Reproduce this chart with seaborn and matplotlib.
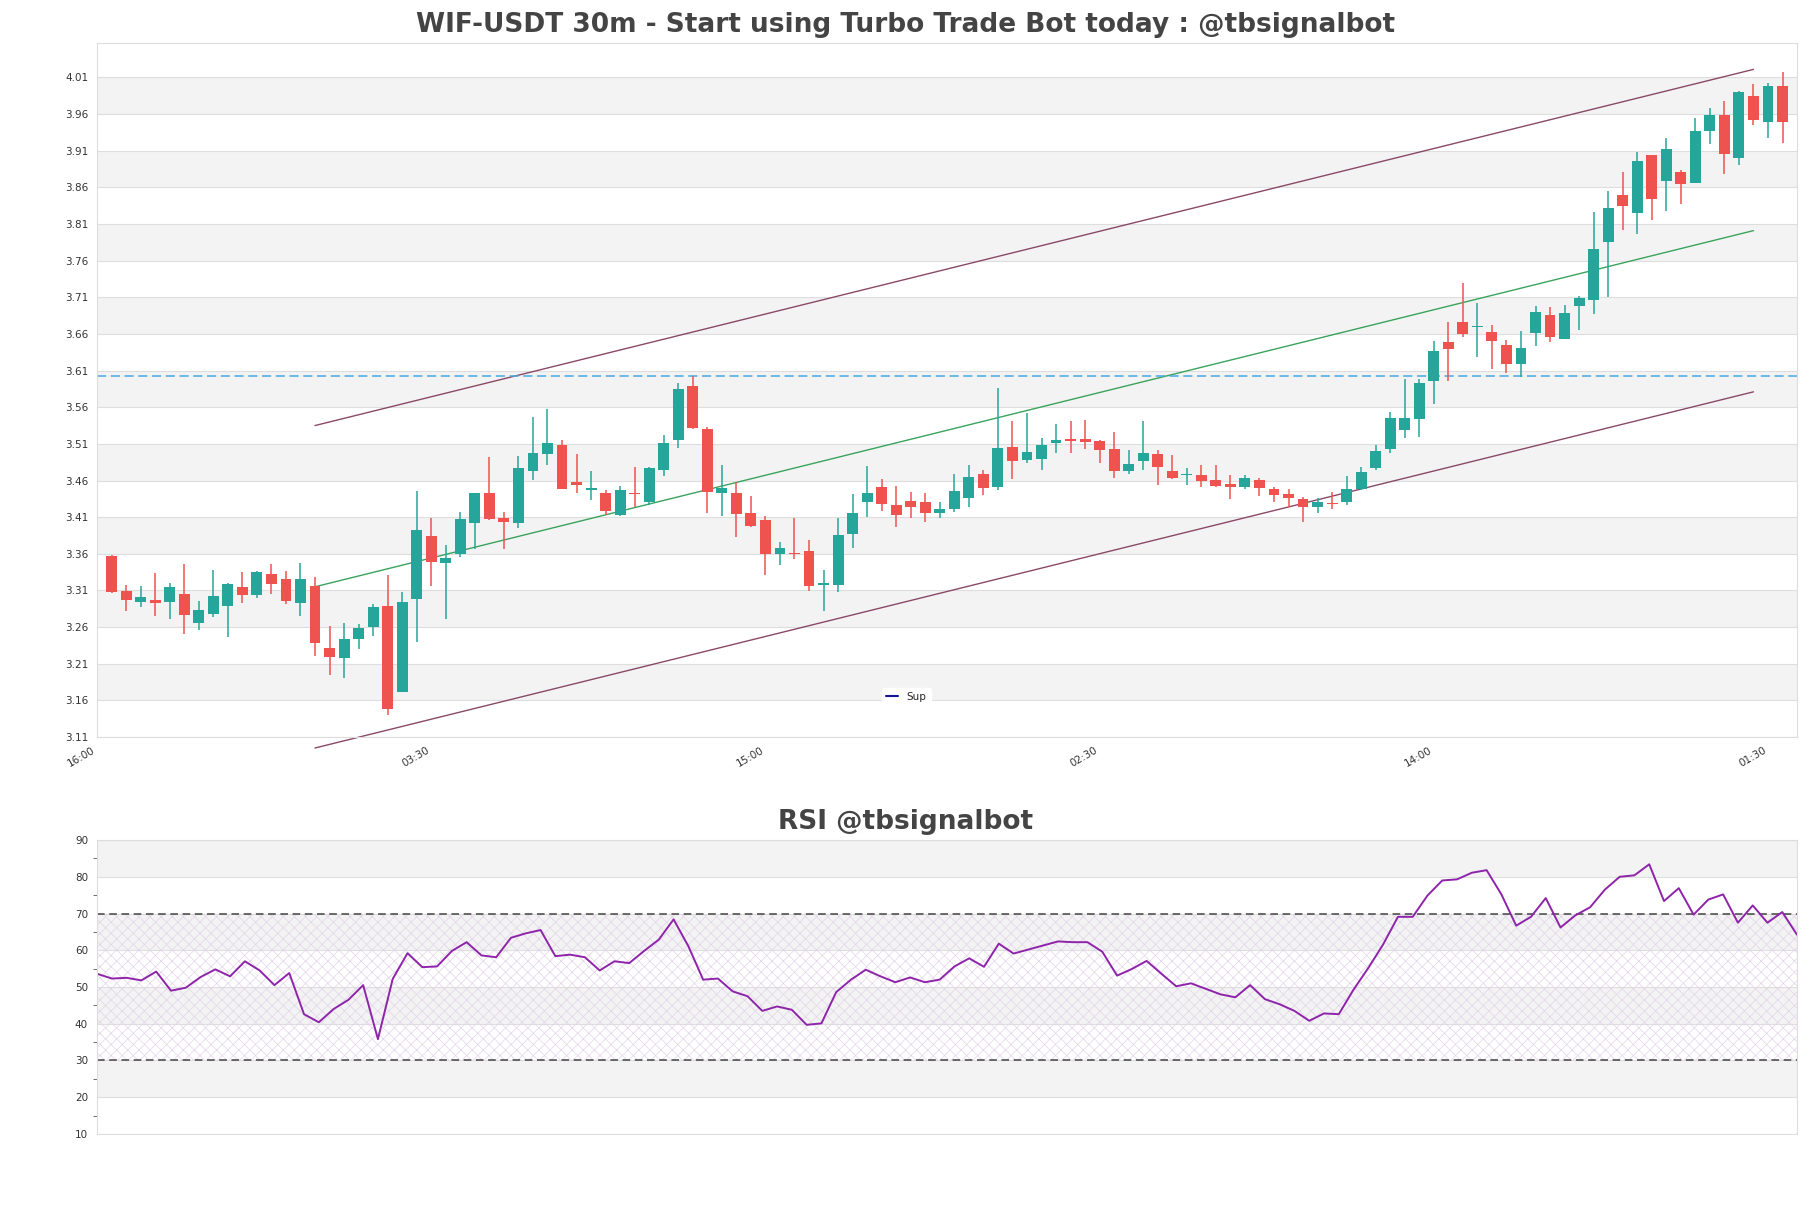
import numpy as np
import pandas as pd
import matplotlib
matplotlib.use("Agg")
import matplotlib.pyplot as plt
import seaborn as sns
from matplotlib.lines import Line2D
from matplotlib.ticker import MultipleLocator

# candle data (30m)
opens = [3.357, 3.3091, 3.2945, 3.2968, 3.2945, 3.305, 3.2658, 3.2781, 3.2891, 3.3146,
         3.3041, 3.3324, 3.326, 3.2932, 3.316, 3.2312, 3.218, 3.244, 3.2604, 3.2886,
         3.1715, 3.2987, 3.3843, 3.3474, 3.3591, 3.4018, 3.4436, 3.4082, 3.4014, 3.4727,
         3.4955, 3.5086, 3.4586, 3.4473, 3.4423, 3.4136, 3.4427, 3.43, 3.4741, 3.515,
         3.5895, 3.5309, 3.4427, 3.4436, 3.415, 3.4055, 3.3595, 3.3614, 3.3641, 3.3168,
         3.3168, 3.3864, 3.43, 3.4514, 3.4268, 3.4323, 3.4309, 3.415, 3.4218, 3.4368,
         3.4691, 3.4505, 3.5059, 3.4886, 3.49, 3.5118, 3.5168, 3.5164, 3.5141, 3.5032,
         3.4723, 3.4873, 3.4964, 3.4732, 3.4673, 3.4677, 3.4609, 3.4555, 3.4505, 3.4609,
         3.4486, 3.4418, 3.4345, 3.4232, 3.4295, 3.43, 3.4486, 3.4764, 3.5036, 3.5295,
         3.5445, 3.5964, 3.6486, 3.676, 3.6691, 3.6623, 3.6445, 3.6186, 3.6618, 3.6855,
         3.6536, 3.6986, 3.7068, 3.7859, 3.8491, 3.8255, 3.9036, 3.8691, 3.8809, 3.8664,
         3.9364, 3.9582, 3.9005, 3.9845, 3.9486, 3.9982]
highs = [3.3584, 3.3173, 3.316, 3.3333, 3.3196, 3.3456, 3.2955, 3.3378, 3.3196, 3.3351,
         3.3365, 3.3461, 3.3365, 3.3474, 3.3278, 3.2613, 3.2654, 3.2636, 3.2909, 3.3306,
         3.3073, 3.4459, 3.4089, 3.372, 3.4164, 3.4436, 3.4927, 3.4164, 3.4936, 3.5473,
         3.5577, 3.5159, 3.4968, 3.4736, 3.4473, 3.4523, 3.4791, 3.4791, 3.5227, 3.5936,
         3.6032, 3.5336, 3.4818, 3.4582, 3.4382, 3.4109, 3.3764, 3.4082, 3.3791, 3.3377,
         3.4091, 3.4414, 3.48, 3.4623, 3.4527, 3.4445, 3.4427, 3.4309, 3.4691, 3.4809,
         3.4745, 3.5864, 3.5414, 3.5518, 3.5177, 3.5373, 3.5414, 3.5427, 3.5155, 3.5259,
         3.5018, 3.5418, 3.5018, 3.495, 3.4773, 3.4814, 3.4814, 3.4677, 3.4677, 3.4636,
         3.4518, 3.4486, 3.4377, 3.4355, 3.4445, 3.4655, 3.4786, 3.5086, 3.5532, 3.5986,
         3.5982, 3.6505, 3.676, 3.7291, 3.7018, 3.6718, 3.6518, 3.6641, 3.6982, 3.6968,
         3.6991, 3.7118, 3.8264, 3.8545, 3.8809, 3.9082, 3.9036, 3.9273, 3.8836, 3.9541,
         3.9677, 3.9777, 3.9909, 4.0009, 4.0018, 4.0173]
lows = [3.3069, 3.2822, 3.2877, 3.2754, 3.2713, 3.2508, 3.2563, 3.274, 3.2467, 3.2932,
        3.2991, 3.3055, 3.2918, 3.2754, 3.2207, 3.1947, 3.1906, 3.2303, 3.2481, 3.14,
        3.1715, 3.2394, 3.316, 3.2713, 3.3555, 3.3668, 3.4055, 3.3664, 3.395, 3.4605,
        3.4809, 3.4482, 3.4427, 3.4332, 3.4123, 3.4118, 3.4236, 3.4264, 3.4659, 3.5041,
        3.53, 3.415, 3.4109, 3.3827, 3.3968, 3.3305, 3.345, 3.3532, 3.3086, 3.2814,
        3.3073, 3.3673, 3.41, 3.4186, 3.3964, 3.4082, 3.4027, 3.4082, 3.4177, 3.4241,
        3.4409, 3.4464, 3.4623, 3.4841, 3.475, 3.4982, 3.4982, 3.5032, 3.4841, 3.4632,
        3.4682, 3.4745, 3.4545, 3.4627, 3.4545, 3.4518, 3.4509, 3.4341, 3.4486, 3.4395,
        3.43, 3.4232, 3.4027, 3.415, 3.4205, 3.4259, 3.4464, 3.4745, 3.4982, 3.5186,
        3.52, 3.565, 3.5964, 3.6555, 3.6291, 3.6127, 3.6073, 3.6009, 3.6441, 3.6495,
        3.6527, 3.6655, 3.6873, 3.7105, 3.8018, 3.7968, 3.8155, 3.8277, 3.8368, 3.8664,
        3.9195, 3.8786, 3.8909, 3.9455, 3.9277, 3.9209]
closes = [3.3082, 3.2973, 3.3009, 3.2932, 3.3146, 3.2768, 3.2832, 3.3023, 3.3187, 3.3041,
          3.3351, 3.3192, 3.2959, 3.326, 3.2385, 3.2193, 3.2435, 3.2585, 3.2877, 3.1482,
          3.2941, 3.3925, 3.3492, 3.3543, 3.4068, 3.4423, 3.4068, 3.4032, 3.4764, 3.4982,
          3.5105, 3.4482, 3.4536, 3.4491, 3.4182, 3.4464, 3.4414, 3.4764, 3.5105, 3.5855,
          3.5314, 3.4441, 3.4495, 3.4141, 3.3986, 3.3591, 3.3682, 3.3595, 3.3155, 3.3205,
          3.3859, 3.4159, 3.4432, 3.4273, 3.4136, 3.4245, 3.415, 3.4214, 3.4459, 3.465,
          3.4491, 3.5045, 3.4873, 3.4991, 3.5086, 3.5155, 3.5141, 3.5127, 3.5018, 3.4723,
          3.4827, 3.4977, 3.4791, 3.4641, 3.4682, 3.46, 3.4527, 3.4505, 3.4636, 3.4491,
          3.4409, 3.4355, 3.4232, 3.43, 3.4273, 3.4486, 3.4718, 3.5005, 3.5455, 3.5455,
          3.5932, 3.6368, 3.64, 3.6595, 3.6705, 3.6509, 3.6195, 3.6405, 3.6895, 3.6555,
          3.6882, 3.7086, 3.7755, 3.8314, 3.8341, 3.8959, 3.8445, 3.9118, 3.865, 3.9368,
          3.9586, 3.9059, 3.99, 3.9523, 3.9982, 3.9495]

rsi = [53.6, 52.3, 52.5, 51.8, 54.2, 49.0, 49.8, 52.7, 54.8, 52.9,
       57.0, 54.5, 50.5, 53.8, 42.6, 40.4, 44.0, 46.5, 50.5, 35.8,
       52.2, 59.2, 55.4, 55.6, 59.8, 62.2, 58.6, 58.1, 63.4, 64.6,
       65.5, 58.4, 58.8, 58.1, 54.5, 57.0, 56.5, 59.8, 62.9, 68.4,
       61.1, 52.0, 52.3, 48.8, 47.5, 43.5, 44.7, 43.8, 39.7, 40.1,
       48.6, 52.0, 54.7, 52.9, 51.3, 52.6, 51.3, 52.0, 55.6, 57.8,
       55.5, 61.8, 59.1, 60.2, 61.3, 62.4, 62.2, 62.2, 59.6, 53.1,
       54.9, 57.1, 53.6, 50.2, 51.0, 49.5, 48.0, 47.2, 50.5, 46.7,
       45.3, 43.5, 40.8, 42.8, 42.6, 49.3, 55.2, 61.6, 69.1, 69.1,
       74.9, 79.0, 79.3, 81.1, 81.8, 75.2, 66.7, 69.1, 74.2, 66.2,
       69.5, 71.7, 76.5, 80.0, 80.4, 83.4, 73.4, 76.9, 69.7, 73.8,
       75.2, 67.5, 72.2, 67.5, 70.4, 64.2]

# regression channel end points (candle index, price)
chan_x = [14, 113]
chan_upper = [3.535, 4.021]
chan_mid = [3.315, 3.801]
chan_lower = [3.095, 3.581]
sup_level = 3.6025

xtick_pos = [-1, 22, 45, 68, 91, 114]
xtick_labels = ["16:00", "03:30", "15:00", "02:30", "14:00", "01:30"]
price_ticks = np.round(np.arange(3.11, 4.015, 0.05), 2)
rsi_ticks = [10, 20, 30, 40, 50, 60, 70, 80, 90]

df = pd.DataFrame({"open": opens, "high": highs, "low": lows, "close": closes})
df["x"] = np.arange(len(df))
df["up"] = df["close"] >= df["open"]

sns.set_style("white")
plt.rcParams['font.family'] = ['DejaVu Sans']
plt.rcParams['hatch.linewidth'] = 0.5

GREEN = "#26a69a"
RED = "#ef5350"
BAND = "#f3f3f3"
GRID = "#dedede"

fig = plt.figure(figsize=(18.11, 12.08), dpi=100)
ax = fig.add_axes([0.0536, 0.3899, 0.9387, 0.5745])
ax2 = fig.add_axes([0.0536, 0.0613, 0.9387, 0.2433])
title_x = (0.5 - 0.0536) / 0.9387  # titles sit centred on the figure

# ------------------------------
# price panel
for y in price_ticks[1::2]:
    ax.axhspan(y, y + 0.05, color=BAND, zorder=0, lw=0)
for y in price_ticks:
    ax.axhline(y, color=GRID, lw=0.8, zorder=0.5)

colors = np.where(df["up"], GREEN, RED)
ax.vlines(df["x"], df["low"], df["high"], colors=colors, lw=1.1, zorder=2)
body_low = df[["open", "close"]].min(axis=1)
body_h = (df["close"] - df["open"]).abs().clip(lower=0.0007)
ax.bar(df["x"], body_h, bottom=body_low, width=0.75, color=colors, zorder=3, lw=0)

ax.plot(chan_x, chan_upper, color="#8a4968", lw=1.0, zorder=1.5, clip_on=False)
ax.plot(chan_x, chan_lower, color="#8a4968", lw=1.0, zorder=1.5, clip_on=False)
ax.plot(chan_x, chan_mid, color="#3aa35c", lw=1.0, zorder=1.5)
ax.axhline(sup_level, color="#45a9e6", lw=1.1, ls=(0, (6, 3)), zorder=1.6)

ax.set_xlim(-1, 116)
ax.set_ylim(3.11, 4.057)
ax.set_yticks(price_ticks)
ax.set_yticklabels([f"{t:.2f}" for t in price_ticks])
ax.set_xticks(xtick_pos)
ax.set_xticklabels(xtick_labels, rotation=30, ha="right")
ax.tick_params(axis="both", labelsize=7.5, colors="#333333", length=0, pad=6)
for s in ax.spines.values():
    s.set_color("#dddddd")

leg = ax.legend(handles=[Line2D([], [], color="#1515a0", lw=1.5, label="Sup")],
                loc="center", bbox_to_anchor=(0.476, 0.058), fontsize=7.5,
                handlelength=1.2, frameon=True, facecolor="white", edgecolor="white",
                framealpha=1)

ax.set_title("WIF-USDT 30m - Start using Turbo Trade Bot today : @tbsignalbot",
             fontsize=19, fontweight="bold", color="#444444", pad=8, x=title_x)

# ------------------------------
# RSI panel
for y in rsi_ticks[1::2]:
    ax2.axhspan(y, y + 10, color=BAND, zorder=0, lw=0)
for y in rsi_ticks:
    ax2.axhline(y, color=GRID, lw=0.8, zorder=0.5)

rx = np.arange(len(rsi))
ax2.fill_between([0, len(rsi) - 1], 30, 70, facecolor="none", hatch="xxx",
                 edgecolor="#e2d4e8", lw=0, zorder=0.7)
ax2.axhline(70, color="#444444", lw=1.1, ls=(0, (5, 3)), zorder=1)
ax2.axhline(30, color="#444444", lw=1.1, ls=(0, (5, 3)), zorder=1)
sns.lineplot(x=rx, y=rsi, ax=ax2, color="#8e24aa", lw=1.4, zorder=2)

ax2.set_xlim(0, len(rsi) - 1)
ax2.set_ylim(10, 90)
ax2.set_yticks(rsi_ticks)
ax2.yaxis.set_minor_locator(MultipleLocator(5))
ax2.set_xticks([])
ax2.tick_params(axis="y", which="major", labelsize=7.5, colors="#333333", length=3, width=0.6)
ax2.tick_params(axis="y", which="minor", length=3, width=0.6, colors="#555555", left=True)
for s in ax2.spines.values():
    s.set_color("#dddddd")

ax2.set_title("RSI @tbsignalbot", fontsize=19, fontweight="bold", color="#444444",
              pad=8, x=title_x)

fig.savefig("out.png", dpi=100)
